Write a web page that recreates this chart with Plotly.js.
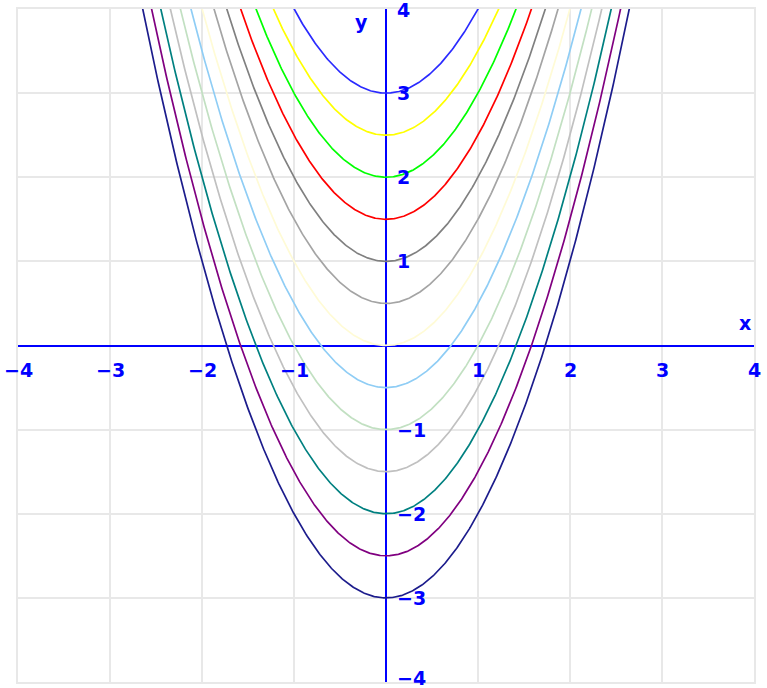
<!DOCTYPE html>
<html>
<head>
<meta charset="utf-8">
<script src="https://cdn.plot.ly/plotly-3.0.1.min.js"></script>
<style>
  html, body { margin: 0; padding: 0; background: #ffffff; }
  #chart { width: 767px; height: 688px; }
</style>
</head>
<body>
<div id="chart"></div>
<script>
// Family of parabolas y = x^2 + c, one curve per vertical offset c
const offsets = [3, 2.5, 2, 1.5, 1, 0.5, 0, -0.5, -1, -1.5, -2, -2.5, -3];
const curveColors = ['#2a2aff', '#ffff00', '#00ff00', '#ff0000', '#808080', '#a4a4a4',
                     '#fffbd6', '#8fcdf5', '#c2e0c2', '#c0c0c0', '#008080', '#800080', '#1c1c8c'];

// Axis tick labels
const xTickVals = [-4, -3, -2, -1, 1, 2, 3, 4];
const xTickText = ['\u22124', '\u22123', '\u22122', '\u22121', '1', '2', '3', '4'];
const yTickVals = [4, 3, 2, 1, -1, -2, -3, -4];
const yTickText = ['4', '3', '2', '1', '\u22121', '\u22122', '\u22123', '\u22124'];

const X_MIN = -4, X_MAX = 4, Y_MAX = 4;
const STEP = 0.01;

const traces = offsets.map((c, i) => {
  const xs = [], ys = [];
  const half = Math.sqrt(Math.max(Y_MAX - c, 0)) + 0.05;
  const lo = Math.max(X_MIN, -half), hi = Math.min(X_MAX, half);
  for (let x = lo; x <= hi + 1e-9; x += STEP) {
    xs.push(x);
    ys.push(x * x + c);
  }
  return {
    type: 'scatter', mode: 'lines', x: xs, y: ys,
    line: { color: curveColors[i], width: 1.7 },
    hoverinfo: 'skip', showlegend: false
  };
});

const labelFont = { family: 'DejaVu Sans', size: 19, color: '#0000ff', weight: 'bold' };

const annotations = [];
xTickVals.forEach((v, i) => annotations.push({
  x: v, y: 0, xref: 'x', yref: 'y', text: xTickText[i], showarrow: false,
  xanchor: 'center', yanchor: 'middle', yshift: -24, font: labelFont
}));
yTickVals.forEach((v, i) => annotations.push({
  x: 0, y: v, xref: 'x', yref: 'y', text: yTickText[i], showarrow: false,
  xanchor: 'left', yanchor: 'middle', xshift: 9,
  // keep the outermost labels inside the page
  yshift: v === -4 ? 4 : (v === 4 ? -1 : 0), font: labelFont
}));
annotations.push({ x: 3.9, y: 0, xref: 'x', yref: 'y', text: 'x', showarrow: false,
  xanchor: 'center', yanchor: 'middle', yshift: 23, font: labelFont });
annotations.push({ x: -0.27, y: 3.85, xref: 'x', yref: 'y', text: 'y', showarrow: false,
  xanchor: 'center', yanchor: 'middle', font: labelFont });

const gridColor = '#e8e8e8';
const axisCommon = {
  range: [-4, 4], dtick: 1, tick0: 0,
  showgrid: true, gridcolor: gridColor, gridwidth: 2,
  showline: true, mirror: true, linecolor: gridColor, linewidth: 2,
  zeroline: true, zerolinecolor: '#0000ff', zerolinewidth: 2,
  showticklabels: false, ticks: '', fixedrange: true
};

const layout = {
  width: 767, height: 688,
  margin: { l: 18, r: 13, t: 9, b: 6 },
  paper_bgcolor: '#ffffff', plot_bgcolor: '#ffffff',
  xaxis: Object.assign({}, axisCommon),
  yaxis: Object.assign({}, axisCommon),
  annotations: annotations,
  showlegend: false
};

Plotly.newPlot('chart', traces, layout, { displayModeBar: false, staticPlot: true });
</script>
</body>
</html>
